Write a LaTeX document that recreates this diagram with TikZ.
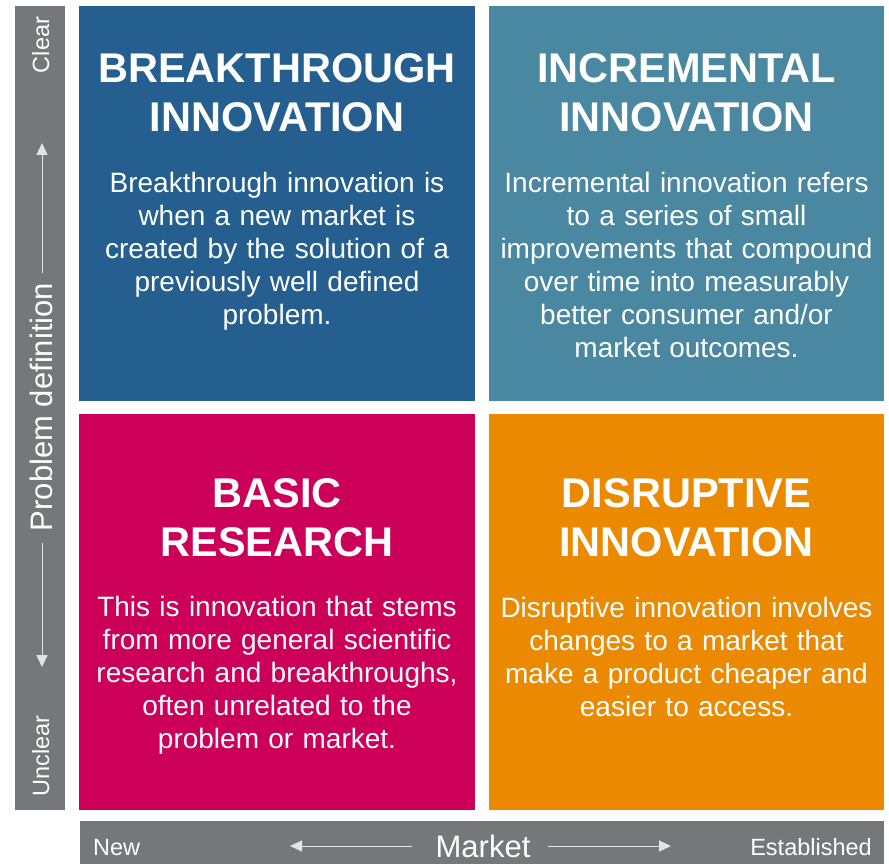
\documentclass[tikz,border=0pt]{standalone}
\usepackage{fontspec}
\setmainfont{Liberation Sans}
\usetikzlibrary{arrows.meta}

\definecolor{qblue}{HTML}{245F90}
\definecolor{qteal}{HTML}{4A87A0}
\definecolor{qmagenta}{HTML}{CC0058}
\definecolor{qorange}{HTML}{EB8A00}
\definecolor{axisgray}{HTML}{75787B}
\definecolor{axisline}{HTML}{E2E3E4}

\tikzset{
  quad/.style={fill=#1, draw=none, inner sep=0pt, anchor=north west},
  qtitle/.style={text=white, inner sep=0pt, anchor=base, text width=390pt, align=center,
    font=\fontsize{41.5}{49}\selectfont\bfseries},
  qbody/.style={text=white, inner sep=0pt, anchor=base, text width=390pt, align=center,
    font=\fontsize{28}{33.2}\selectfont},
  axislabel/.style={text=white, inner sep=0pt, anchor=base, font=\fontsize{23.5}{28}\selectfont},
  axistitle/.style={text=white, inner sep=0pt, font=\fontsize{31}{36}\selectfont},
  axisarrow/.style={draw=axisline, line width=1pt, -{Triangle[width=11pt,length=12pt]}},
}

\begin{document}
\begin{tikzpicture}[x=1pt, y=-1pt]
  \useasboundingbox (0,0) rectangle (889,864);

  % quadrants
  \node[quad=qblue, minimum width=396pt, minimum height=395pt] (tl) at (79,6) {};
  \node[quad=qteal, minimum width=395pt, minimum height=395pt] (tr) at (489,6) {};
  \node[quad=qmagenta, minimum width=396pt, minimum height=396pt] (bl) at (79,414) {};
  \node[quad=qorange, minimum width=395pt, minimum height=396pt] (br) at (489,414) {};

  % vertical axis bar
  \node[quad=axisgray, minimum width=50pt, minimum height=804pt] (vbar) at (15,6) {};
  % horizontal axis bar
  \node[quad=axisgray, minimum width=804pt, minimum height=43pt] (hbar) at (80,821) {};

  % quadrant titles
  \node[qtitle] (tlt) at (277,83) {BREAKTHROUGH\\INNOVATION};
  \node[qtitle] (trt) at (686.5,83) {INCREMENTAL\\INNOVATION};
  \node[qtitle] (blt) at (277,507) {BASIC\\RESEARCH};
  \node[qtitle] (brt) at (686.5,507) {DISRUPTIVE\\INNOVATION};

  % quadrant descriptions
  \node[qbody] (tlb) at (277,192) {Breakthrough innovation is\\when a new market is\\created by the solution of a\\previously well defined\\problem.};
  \node[qbody] (trb) at (686.5,192) {Incremental innovation refers\\to a series of small\\improvements that compound\\over time into measurably\\better consumer and/or\\market outcomes.};
  \node[qbody] (blb) at (277,616) {This is innovation that stems\\from more general scientific\\research and breakthroughs,\\often unrelated to the\\problem or market.};
  \node[qbody] (brb) at (686.5,617) {Disruptive innovation involves\\changes to a market that\\make a product cheaper and\\easier to access.};

  % vertical axis labels
  \node[axislabel, rotate=90] (clear) at (49,45) {Clear};
  \node[axislabel, rotate=90] (unclear) at (49,756) {Unclear};
  \node[axistitle, rotate=90] (pdef) at (41,407) {Problem definition};

  % vertical axis arrows
  \coordinate (vup0) at (42,273);
  \coordinate (vup1) at (42,143);
  \coordinate (vdn0) at (42,543);
  \coordinate (vdn1) at (42,667);
  \draw[axisarrow] (vup0) -- (vup1);
  \draw[axisarrow] (vdn0) -- (vdn1);

  % horizontal axis labels
  \node[axislabel, anchor=base west] (new) at (93,855) {New};
  \node[axislabel, anchor=base east] (est) at (872,855) {Established};
  \node[axistitle, anchor=base] (market) at (483,857) {Market};

  % horizontal axis arrows
  \coordinate (hl0) at (412,846);
  \coordinate (hl1) at (290,846);
  \coordinate (hr0) at (548,846);
  \coordinate (hr1) at (671,846);
  \draw[axisarrow] (hl0) -- (hl1);
  \draw[axisarrow] (hr0) -- (hr1);
\end{tikzpicture}
\end{document}
